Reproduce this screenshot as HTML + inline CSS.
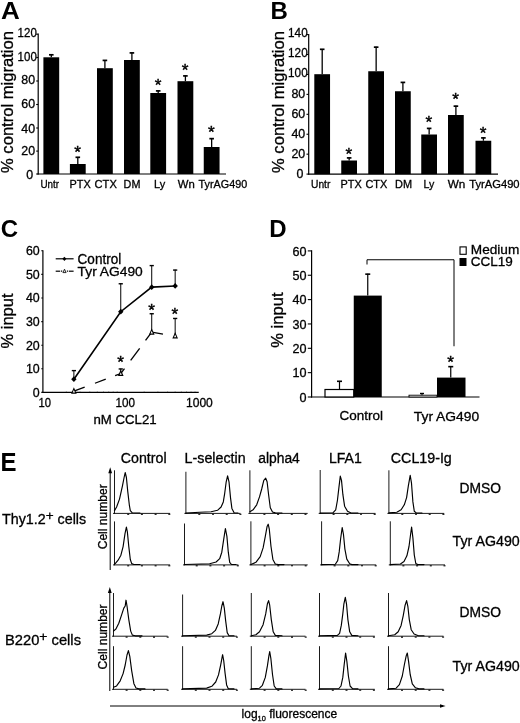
<!DOCTYPE html>
<html><head><meta charset="utf-8"><title>Figure</title>
<style>html,body{margin:0;padding:0;background:#fff;overflow:hidden}svg{display:block}text{font-family:"Liberation Sans",sans-serif}</style>
</head><body>
<svg width="520" height="723" viewBox="0 0 520 723" fill="#000">
<text x="1.0" y="19.2" font-size="24.5" font-weight="bold" textLength="18.8" lengthAdjust="spacingAndGlyphs">A</text>
<line x1="38.2" y1="33.5" x2="38.2" y2="174.6" stroke="#000" stroke-width="1.2" />
<line x1="37.6" y1="174" x2="226" y2="174" stroke="#000" stroke-width="1.2" />
<line x1="36.2" y1="174" x2="38.2" y2="174" stroke="#000" stroke-width="1.1" />
<text x="33.2" y="178.64" font-size="12.4" text-anchor="end" stroke="#000" stroke-width="0.3">0</text>
<line x1="36.2" y1="151.1" x2="38.2" y2="151.1" stroke="#000" stroke-width="1.1" />
<text x="35.1" y="155.19" font-size="12.4" text-anchor="end" stroke="#000" stroke-width="0.3">20</text>
<line x1="36.2" y1="128" x2="38.2" y2="128" stroke="#000" stroke-width="1.1" />
<text x="35.1" y="132.54" font-size="12.4" text-anchor="end" stroke="#000" stroke-width="0.3">40</text>
<line x1="36.2" y1="104.5" x2="38.2" y2="104.5" stroke="#000" stroke-width="1.1" />
<text x="35.1" y="108.24" font-size="12.4" text-anchor="end" stroke="#000" stroke-width="0.3">60</text>
<line x1="36.2" y1="81" x2="38.2" y2="81" stroke="#000" stroke-width="1.1" />
<text x="35.1" y="84.44" font-size="12.4" text-anchor="end" stroke="#000" stroke-width="0.3">80</text>
<line x1="36.2" y1="57.5" x2="38.2" y2="57.5" stroke="#000" stroke-width="1.1" />
<text x="36.800000000000004" y="60.69" font-size="12.4" text-anchor="end" textLength="19.2" lengthAdjust="spacingAndGlyphs" stroke="#000" stroke-width="0.3">100</text>
<line x1="36.2" y1="34.2" x2="38.2" y2="34.2" stroke="#000" stroke-width="1.1" />
<text x="36.800000000000004" y="36.94" font-size="12.4" text-anchor="end" textLength="19.2" lengthAdjust="spacingAndGlyphs" stroke="#000" stroke-width="0.3">120</text>
<text transform="translate(13.1,102) rotate(-90)" font-size="15.8" text-anchor="middle" textLength="142" lengthAdjust="spacingAndGlyphs" stroke="#000" stroke-width="0.3">% control migration</text>
<rect x="43.4" y="57.3" width="15.8" height="116.7" fill="#000" stroke="none" stroke-width="1"/>
<line x1="51.3" y1="57.3" x2="51.3" y2="54.4" stroke="#000" stroke-width="1.3" />
<line x1="49.0" y1="54.8" x2="53.599999999999994" y2="54.8" stroke="#000" stroke-width="1.7000000000000002" />
<rect x="69.9" y="164" width="15.8" height="10" fill="#000" stroke="none" stroke-width="1"/>
<line x1="77.80000000000001" y1="164" x2="77.80000000000001" y2="156.9" stroke="#000" stroke-width="1.3" />
<line x1="75.50000000000001" y1="157.3" x2="80.10000000000001" y2="157.3" stroke="#000" stroke-width="1.7000000000000002" />
<text x="77.60000000000001" y="157.75" font-size="16.5" text-anchor="middle" textLength="6.7" lengthAdjust="spacingAndGlyphs" stroke="#000" stroke-width="0.4">*</text>
<rect x="97" y="68.2" width="15.8" height="105.8" fill="#000" stroke="none" stroke-width="1"/>
<line x1="104.9" y1="68.2" x2="104.9" y2="60" stroke="#000" stroke-width="1.3" />
<line x1="102.60000000000001" y1="60.4" x2="107.2" y2="60.4" stroke="#000" stroke-width="1.7000000000000002" />
<rect x="124" y="60" width="15.8" height="114" fill="#000" stroke="none" stroke-width="1"/>
<line x1="131.9" y1="60" x2="131.9" y2="52.5" stroke="#000" stroke-width="1.3" />
<line x1="129.6" y1="52.9" x2="134.20000000000002" y2="52.9" stroke="#000" stroke-width="1.7000000000000002" />
<rect x="150.3" y="93" width="15.8" height="81" fill="#000" stroke="none" stroke-width="1"/>
<line x1="158.20000000000002" y1="93" x2="158.20000000000002" y2="90.5" stroke="#000" stroke-width="1.3" />
<line x1="155.9" y1="90.9" x2="160.50000000000003" y2="90.9" stroke="#000" stroke-width="1.7000000000000002" />
<text x="158.00000000000003" y="90.5" font-size="16.5" text-anchor="middle" textLength="6.7" lengthAdjust="spacingAndGlyphs" stroke="#000" stroke-width="0.4">*</text>
<rect x="177.5" y="81.2" width="15.8" height="92.8" fill="#000" stroke="none" stroke-width="1"/>
<line x1="185.4" y1="81.2" x2="185.4" y2="75.5" stroke="#000" stroke-width="1.3" />
<line x1="183.1" y1="75.9" x2="187.70000000000002" y2="75.9" stroke="#000" stroke-width="1.7000000000000002" />
<text x="185.20000000000002" y="75.75" font-size="16.5" text-anchor="middle" textLength="6.7" lengthAdjust="spacingAndGlyphs" stroke="#000" stroke-width="0.4">*</text>
<rect x="203.75" y="147" width="15.8" height="27" fill="#000" stroke="none" stroke-width="1"/>
<line x1="211.65" y1="147" x2="211.65" y2="138.25" stroke="#000" stroke-width="1.3" />
<line x1="209.35" y1="138.65" x2="213.95000000000002" y2="138.65" stroke="#000" stroke-width="1.7000000000000002" />
<text x="211.45000000000002" y="138.25" font-size="16.5" text-anchor="middle" textLength="6.7" lengthAdjust="spacingAndGlyphs" stroke="#000" stroke-width="0.4">*</text>
<text x="40.4" y="188" font-size="11" textLength="18.6" lengthAdjust="spacingAndGlyphs" stroke="#000" stroke-width="0.3">Untr</text>
<text x="69.6" y="188" font-size="11" textLength="21.2" lengthAdjust="spacingAndGlyphs" stroke="#000" stroke-width="0.3">PTX</text>
<text x="94.6" y="188" font-size="11" textLength="22.2" lengthAdjust="spacingAndGlyphs" stroke="#000" stroke-width="0.3">CTX</text>
<text x="123.6" y="188" font-size="11" textLength="16.8" lengthAdjust="spacingAndGlyphs" stroke="#000" stroke-width="0.3">DM</text>
<text x="154" y="188" font-size="11" textLength="11.2" lengthAdjust="spacingAndGlyphs" stroke="#000" stroke-width="0.3">Ly</text>
<text x="177.8" y="188" font-size="11" textLength="17" lengthAdjust="spacingAndGlyphs" stroke="#000" stroke-width="0.3">Wn</text>
<text x="198.6" y="188" font-size="11" textLength="48.6" lengthAdjust="spacingAndGlyphs" stroke="#000" stroke-width="0.3">TyrAG490</text>
<text x="270.6" y="18.5" font-size="24" font-weight="bold">B</text>
<line x1="308.7" y1="34.1" x2="308.7" y2="174.7" stroke="#000" stroke-width="1.2" />
<line x1="308.09999999999997" y1="174.1" x2="498" y2="174.1" stroke="#000" stroke-width="1.2" />
<line x1="306.5" y1="174.1" x2="308.7" y2="174.1" stroke="#000" stroke-width="1.1" />
<text x="303.3" y="178.44" font-size="12.4" text-anchor="end" stroke="#000" stroke-width="0.3">0</text>
<line x1="306.5" y1="154.17" x2="308.7" y2="154.17" stroke="#000" stroke-width="1.1" />
<text x="305.20000000000005" y="158.34" font-size="12.4" text-anchor="end" stroke="#000" stroke-width="0.3">20</text>
<line x1="306.5" y1="134.24" x2="308.7" y2="134.24" stroke="#000" stroke-width="1.1" />
<text x="305.20000000000005" y="138.44" font-size="12.4" text-anchor="end" stroke="#000" stroke-width="0.3">40</text>
<line x1="306.5" y1="114.31" x2="308.7" y2="114.31" stroke="#000" stroke-width="1.1" />
<text x="305.20000000000005" y="118.24" font-size="12.4" text-anchor="end" stroke="#000" stroke-width="0.3">60</text>
<line x1="306.5" y1="94.38" x2="308.7" y2="94.38" stroke="#000" stroke-width="1.1" />
<text x="305.20000000000005" y="98.04" font-size="12.4" text-anchor="end" stroke="#000" stroke-width="0.3">80</text>
<line x1="306.5" y1="74.45" x2="308.7" y2="74.45" stroke="#000" stroke-width="1.1" />
<text x="307.70000000000005" y="77.34" font-size="12.4" text-anchor="end" textLength="19.6" lengthAdjust="spacingAndGlyphs" stroke="#000" stroke-width="0.3">100</text>
<line x1="306.5" y1="54.52" x2="308.7" y2="54.52" stroke="#000" stroke-width="1.1" />
<text x="307.70000000000005" y="57.14" font-size="12.4" text-anchor="end" textLength="19.6" lengthAdjust="spacingAndGlyphs" stroke="#000" stroke-width="0.3">120</text>
<line x1="306.5" y1="34.59" x2="308.7" y2="34.59" stroke="#000" stroke-width="1.1" />
<text x="307.70000000000005" y="37.14" font-size="12.4" text-anchor="end" textLength="19.6" lengthAdjust="spacingAndGlyphs" stroke="#000" stroke-width="0.3">140</text>
<text transform="translate(284.3,102) rotate(-90)" font-size="15.8" text-anchor="middle" textLength="142" lengthAdjust="spacingAndGlyphs" stroke="#000" stroke-width="0.3">% control migration</text>
<rect x="314.3" y="74.2" width="15.75" height="99.9" fill="#000" stroke="none" stroke-width="1"/>
<line x1="322.2" y1="74.2" x2="322.2" y2="48.9" stroke="#000" stroke-width="1.3" />
<line x1="319.9" y1="49.3" x2="324.5" y2="49.3" stroke="#000" stroke-width="1.7000000000000002" />
<rect x="341.25" y="160.5" width="15.75" height="13.6" fill="#000" stroke="none" stroke-width="1"/>
<line x1="349.15" y1="160.5" x2="349.15" y2="157.5" stroke="#000" stroke-width="1.3" />
<line x1="346.84999999999997" y1="157.9" x2="351.45" y2="157.9" stroke="#000" stroke-width="1.7000000000000002" />
<text x="348.95" y="159.5" font-size="16.5" text-anchor="middle" textLength="6.7" lengthAdjust="spacingAndGlyphs" stroke="#000" stroke-width="0.4">*</text>
<rect x="368.25" y="71.25" width="15.75" height="102.85" fill="#000" stroke="none" stroke-width="1"/>
<line x1="376.15" y1="71.25" x2="376.15" y2="46.75" stroke="#000" stroke-width="1.3" />
<line x1="373.84999999999997" y1="47.15" x2="378.45" y2="47.15" stroke="#000" stroke-width="1.7000000000000002" />
<rect x="395" y="91.25" width="15.75" height="82.85" fill="#000" stroke="none" stroke-width="1"/>
<line x1="402.9" y1="91.25" x2="402.9" y2="82" stroke="#000" stroke-width="1.3" />
<line x1="400.59999999999997" y1="82.4" x2="405.2" y2="82.4" stroke="#000" stroke-width="1.7000000000000002" />
<rect x="421.25" y="134.5" width="15.75" height="39.6" fill="#000" stroke="none" stroke-width="1"/>
<line x1="429.15" y1="134.5" x2="429.15" y2="128" stroke="#000" stroke-width="1.3" />
<line x1="426.84999999999997" y1="128.4" x2="431.45" y2="128.4" stroke="#000" stroke-width="1.7000000000000002" />
<text x="428.95" y="128.25" font-size="16.5" text-anchor="middle" textLength="6.7" lengthAdjust="spacingAndGlyphs" stroke="#000" stroke-width="0.4">*</text>
<rect x="448" y="115" width="15.75" height="59.1" fill="#000" stroke="none" stroke-width="1"/>
<line x1="455.9" y1="115" x2="455.9" y2="105.75" stroke="#000" stroke-width="1.3" />
<line x1="453.59999999999997" y1="106.15" x2="458.2" y2="106.15" stroke="#000" stroke-width="1.7000000000000002" />
<text x="455.7" y="105.0" font-size="16.5" text-anchor="middle" textLength="6.7" lengthAdjust="spacingAndGlyphs" stroke="#000" stroke-width="0.4">*</text>
<rect x="475.5" y="140.75" width="15.75" height="33.35" fill="#000" stroke="none" stroke-width="1"/>
<line x1="483.4" y1="140.75" x2="483.4" y2="137.5" stroke="#000" stroke-width="1.3" />
<line x1="481.09999999999997" y1="137.9" x2="485.7" y2="137.9" stroke="#000" stroke-width="1.7000000000000002" />
<text x="483.2" y="138.75" font-size="16.5" text-anchor="middle" textLength="6.7" lengthAdjust="spacingAndGlyphs" stroke="#000" stroke-width="0.4">*</text>
<text x="311" y="187.7" font-size="11" textLength="19.3" lengthAdjust="spacingAndGlyphs" stroke="#000" stroke-width="0.3">Untr</text>
<text x="340.5" y="187.7" font-size="11" textLength="21.2" lengthAdjust="spacingAndGlyphs" stroke="#000" stroke-width="0.3">PTX</text>
<text x="365.5" y="187.7" font-size="11" textLength="21.8" lengthAdjust="spacingAndGlyphs" stroke="#000" stroke-width="0.3">CTX</text>
<text x="395" y="187.7" font-size="11" textLength="17" lengthAdjust="spacingAndGlyphs" stroke="#000" stroke-width="0.3">DM</text>
<text x="423.4" y="187.7" font-size="11" textLength="10.8" lengthAdjust="spacingAndGlyphs" stroke="#000" stroke-width="0.3">Ly</text>
<text x="447.8" y="187.7" font-size="11" textLength="17.6" lengthAdjust="spacingAndGlyphs" stroke="#000" stroke-width="0.3">Wn</text>
<text x="469.2" y="187.7" font-size="11" textLength="50.4" lengthAdjust="spacingAndGlyphs" stroke="#000" stroke-width="0.3">TyrAG490</text>
<text x="0.8" y="237.4" font-size="24" font-weight="bold">C</text>
<line x1="42.9" y1="250.2" x2="42.9" y2="393.0" stroke="#000" stroke-width="1.2" />
<line x1="42.3" y1="392.4" x2="198.75" y2="392.4" stroke="#000" stroke-width="1.2" />
<line x1="41.3" y1="392.4" x2="42.9" y2="392.4" stroke="#000" stroke-width="1.1" />
<text x="39.7" y="396.7" font-size="12.4" text-anchor="end" stroke="#000" stroke-width="0.3">0</text>
<line x1="41.3" y1="368.8" x2="42.9" y2="368.8" stroke="#000" stroke-width="1.1" />
<text x="39.7" y="373.1" font-size="12.4" text-anchor="end" stroke="#000" stroke-width="0.3">10</text>
<line x1="41.3" y1="345.2" x2="42.9" y2="345.2" stroke="#000" stroke-width="1.1" />
<text x="39.7" y="349.5" font-size="12.4" text-anchor="end" stroke="#000" stroke-width="0.3">20</text>
<line x1="41.3" y1="321.6" x2="42.9" y2="321.6" stroke="#000" stroke-width="1.1" />
<text x="39.7" y="325.9" font-size="12.4" text-anchor="end" stroke="#000" stroke-width="0.3">30</text>
<line x1="41.3" y1="298.0" x2="42.9" y2="298.0" stroke="#000" stroke-width="1.1" />
<text x="39.7" y="302.3" font-size="12.4" text-anchor="end" stroke="#000" stroke-width="0.3">40</text>
<line x1="41.3" y1="274.4" x2="42.9" y2="274.4" stroke="#000" stroke-width="1.1" />
<text x="39.7" y="278.7" font-size="12.4" text-anchor="end" stroke="#000" stroke-width="0.3">50</text>
<line x1="41.3" y1="250.8" x2="42.9" y2="250.8" stroke="#000" stroke-width="1.1" />
<text x="39.7" y="255.1" font-size="12.4" text-anchor="end" stroke="#000" stroke-width="0.3">60</text>
<text transform="translate(13.4,321) rotate(-90)" font-size="16" text-anchor="middle" textLength="55" lengthAdjust="spacingAndGlyphs" stroke="#000" stroke-width="0.3">% input</text>
<line x1="66.34" y1="391.2" x2="66.34" y2="392.4" stroke="#000" stroke-width="0.5" stroke-opacity="0.6"/>
<line x1="80.04" y1="391.2" x2="80.04" y2="392.4" stroke="#000" stroke-width="0.5" stroke-opacity="0.6"/>
<line x1="89.77" y1="391.2" x2="89.77" y2="392.4" stroke="#000" stroke-width="0.5" stroke-opacity="0.6"/>
<line x1="97.31" y1="391.2" x2="97.31" y2="392.4" stroke="#000" stroke-width="0.5" stroke-opacity="0.6"/>
<line x1="103.48" y1="391.2" x2="103.48" y2="392.4" stroke="#000" stroke-width="0.5" stroke-opacity="0.6"/>
<line x1="108.69" y1="391.2" x2="108.69" y2="392.4" stroke="#000" stroke-width="0.5" stroke-opacity="0.6"/>
<line x1="113.21" y1="391.2" x2="113.21" y2="392.4" stroke="#000" stroke-width="0.5" stroke-opacity="0.6"/>
<line x1="117.19" y1="391.2" x2="117.19" y2="392.4" stroke="#000" stroke-width="0.5" stroke-opacity="0.6"/>
<line x1="144.19" y1="391.2" x2="144.19" y2="392.4" stroke="#000" stroke-width="0.5" stroke-opacity="0.6"/>
<line x1="157.89" y1="391.2" x2="157.89" y2="392.4" stroke="#000" stroke-width="0.5" stroke-opacity="0.6"/>
<line x1="167.62" y1="391.2" x2="167.62" y2="392.4" stroke="#000" stroke-width="0.5" stroke-opacity="0.6"/>
<line x1="175.16" y1="391.2" x2="175.16" y2="392.4" stroke="#000" stroke-width="0.5" stroke-opacity="0.6"/>
<line x1="181.33" y1="391.2" x2="181.33" y2="392.4" stroke="#000" stroke-width="0.5" stroke-opacity="0.6"/>
<line x1="186.54" y1="391.2" x2="186.54" y2="392.4" stroke="#000" stroke-width="0.5" stroke-opacity="0.6"/>
<line x1="191.06" y1="391.2" x2="191.06" y2="392.4" stroke="#000" stroke-width="0.5" stroke-opacity="0.6"/>
<line x1="195.04" y1="391.2" x2="195.04" y2="392.4" stroke="#000" stroke-width="0.5" stroke-opacity="0.6"/>
<text x="38.5" y="407.4" font-size="12.3" textLength="12.5" lengthAdjust="spacingAndGlyphs" stroke="#000" stroke-width="0.3">10</text>
<text x="115.6" y="407.4" font-size="12.3" textLength="19.5" lengthAdjust="spacingAndGlyphs" stroke="#000" stroke-width="0.3">100</text>
<text x="186" y="407.4" font-size="12.3" textLength="26.8" lengthAdjust="spacingAndGlyphs" stroke="#000" stroke-width="0.3">1000</text>
<text x="93.4" y="423.9" font-size="13" textLength="63.2" lengthAdjust="spacingAndGlyphs" stroke="#000" stroke-width="0.3">nM CCL21</text>
<polyline fill="none" stroke="#000" stroke-width="1.6" points="73.88,379.18 120.75,311.69 151.73,287.14 175.16,285.96"/>
<line x1="73.88" y1="379.18" x2="73.88" y2="370.21" stroke="#000" stroke-width="1" />
<line x1="71.78" y1="370.60999999999996" x2="75.97999999999999" y2="370.60999999999996" stroke="#000" stroke-width="1.4" />
<path d="M71.18,379.18 L73.88,376.28 L76.58,379.18 L73.88,382.08Z" fill="#000"/>
<line x1="120.75" y1="311.69" x2="120.75" y2="283.37" stroke="#000" stroke-width="1" />
<line x1="118.65" y1="283.77" x2="122.85" y2="283.77" stroke="#000" stroke-width="1.4" />
<path d="M118.05,311.69 L120.75,308.79 L123.45,311.69 L120.75,314.59Z" fill="#000"/>
<line x1="151.73" y1="287.14" x2="151.73" y2="265.19" stroke="#000" stroke-width="1" />
<line x1="149.63" y1="265.59" x2="153.82999999999998" y2="265.59" stroke="#000" stroke-width="1.4" />
<path d="M149.03,287.14 L151.73,284.24 L154.43,287.14 L151.73,290.04Z" fill="#000"/>
<line x1="175.16" y1="285.96" x2="175.16" y2="269.68" stroke="#000" stroke-width="1" />
<line x1="173.06" y1="270.08" x2="177.26" y2="270.08" stroke="#000" stroke-width="1.4" />
<path d="M172.46,285.96 L175.16,283.06 L177.86,285.96 L175.16,288.86Z" fill="#000"/>
<line x1="73.88" y1="391.22" x2="84.66" y2="387.15" stroke="#000" stroke-width="1.3" />
<line x1="94.97" y1="383.25" x2="105.75" y2="379.18" stroke="#000" stroke-width="1.3" />
<line x1="115.13" y1="375.64" x2="120.75" y2="373.52" stroke="#000" stroke-width="1.3" />
<line x1="120.75" y1="373.52" x2="124.47" y2="368.56" stroke="#000" stroke-width="1.3" />
<line x1="130.66" y1="360.3" x2="139.65" y2="348.33" stroke="#000" stroke-width="1.3" />
<line x1="145.53" y1="340.48" x2="151.73" y2="332.22" stroke="#000" stroke-width="1.3" />
<line x1="151.73" y1="332.22" x2="162.98" y2="334.03" stroke="#000" stroke-width="1.3" />
<path d="M71.88,393.12 L73.88,388.62 L75.88,393.12Z" fill="#fff" stroke="#000" stroke-width="1.1"/>
<line x1="120.75" y1="371.52" x2="120.75" y2="368.56" stroke="#000" stroke-width="1" />
<line x1="118.65" y1="368.96" x2="122.85" y2="368.96" stroke="#000" stroke-width="1.4" />
<path d="M118.75,375.42 L120.75,370.92 L122.75,375.42Z" fill="#fff" stroke="#000" stroke-width="1.1"/>
<text x="120.55" y="368.25" font-size="16.5" text-anchor="middle" textLength="6.7" lengthAdjust="spacingAndGlyphs" stroke="#000" stroke-width="0.4">*</text>
<line x1="151.73" y1="330.22" x2="151.73" y2="313.34" stroke="#000" stroke-width="1" />
<line x1="149.63" y1="313.73999999999995" x2="153.82999999999998" y2="313.73999999999995" stroke="#000" stroke-width="1.4" />
<path d="M149.73,334.12 L151.73,329.62 L153.73,334.12Z" fill="#fff" stroke="#000" stroke-width="1.1"/>
<text x="151.53" y="315.75" font-size="16.5" text-anchor="middle" textLength="6.7" lengthAdjust="spacingAndGlyphs" stroke="#000" stroke-width="0.4">*</text>
<line x1="175.16" y1="334.0" x2="175.16" y2="318.06" stroke="#000" stroke-width="1" />
<line x1="173.06" y1="318.46" x2="177.26" y2="318.46" stroke="#000" stroke-width="1.4" />
<path d="M173.16,337.90 L175.16,333.40 L177.16,337.90Z" fill="#fff" stroke="#000" stroke-width="1.1"/>
<text x="174.96" y="320.0" font-size="16.5" text-anchor="middle" textLength="6.7" lengthAdjust="spacingAndGlyphs" stroke="#000" stroke-width="0.4">*</text>
<line x1="55.7" y1="258.8" x2="73.6" y2="258.8" stroke="#000" stroke-width="1.2" />
<path d="M62.4,258.8 L64.4,256.7 L66.4,258.8 L64.4,260.9Z" fill="#000"/>
<text x="77.6" y="263.7" font-size="13.9" textLength="43.6" lengthAdjust="spacingAndGlyphs" stroke="#000" stroke-width="0.3">Control</text>
<line x1="55.7" y1="271.2" x2="60.2" y2="271.2" stroke="#000" stroke-width="1.2" />
<line x1="61" y1="271.2" x2="62.2" y2="271.2" stroke="#000" stroke-width="1.2" />
<line x1="66.9" y1="271.2" x2="68" y2="271.2" stroke="#000" stroke-width="1.2" />
<line x1="68.8" y1="271.2" x2="73.6" y2="271.2" stroke="#000" stroke-width="1.2" />
<path d="M62.9,272.6 L64.5,269.2 L66.1,272.6Z" fill="#ddd" stroke="#000" stroke-width="0.8"/>
<text x="77.6" y="275.6" font-size="13.6" textLength="65.2" lengthAdjust="spacingAndGlyphs" stroke="#000" stroke-width="0.3">Tyr AG490</text>
<text x="269.2" y="236.6" font-size="24" font-weight="bold">D</text>
<line x1="311.6" y1="250.2" x2="311.6" y2="397.6" stroke="#000" stroke-width="1.2" />
<line x1="311.0" y1="397" x2="479.5" y2="397" stroke="#000" stroke-width="1.2" />
<line x1="307.8" y1="397.0" x2="311.6" y2="397.0" stroke="#000" stroke-width="1.1" />
<text x="306.6" y="401.6" font-size="12.6" text-anchor="end" stroke="#000" stroke-width="0.3">0</text>
<line x1="307.8" y1="372.65" x2="311.6" y2="372.65" stroke="#000" stroke-width="1.1" />
<text x="306.6" y="377.25" font-size="12.6" text-anchor="end" stroke="#000" stroke-width="0.3">10</text>
<line x1="307.8" y1="348.3" x2="311.6" y2="348.3" stroke="#000" stroke-width="1.1" />
<text x="306.6" y="352.9" font-size="12.6" text-anchor="end" stroke="#000" stroke-width="0.3">20</text>
<line x1="307.8" y1="323.95" x2="311.6" y2="323.95" stroke="#000" stroke-width="1.1" />
<text x="306.6" y="328.55" font-size="12.6" text-anchor="end" stroke="#000" stroke-width="0.3">30</text>
<line x1="307.8" y1="299.6" x2="311.6" y2="299.6" stroke="#000" stroke-width="1.1" />
<text x="306.6" y="304.2" font-size="12.6" text-anchor="end" stroke="#000" stroke-width="0.3">40</text>
<line x1="307.8" y1="275.25" x2="311.6" y2="275.25" stroke="#000" stroke-width="1.1" />
<text x="306.6" y="279.85" font-size="12.6" text-anchor="end" stroke="#000" stroke-width="0.3">50</text>
<line x1="307.8" y1="250.9" x2="311.6" y2="250.9" stroke="#000" stroke-width="1.1" />
<text x="306.6" y="255.5" font-size="12.6" text-anchor="end" stroke="#000" stroke-width="0.3">60</text>
<text transform="translate(282.9,320.1) rotate(-90)" font-size="16" text-anchor="middle" textLength="55.2" lengthAdjust="spacingAndGlyphs" stroke="#000" stroke-width="0.3">% input</text>
<rect x="325" y="389.5" width="28.75" height="7.5" fill="#fff" stroke="#000" stroke-width="1.2"/>
<line x1="339.5" y1="389.5" x2="339.5" y2="380.9" stroke="#000" stroke-width="1.2" />
<line x1="337.0" y1="381.29999999999995" x2="342.0" y2="381.29999999999995" stroke="#000" stroke-width="1.6" />
<rect x="353.75" y="295.6" width="28" height="101.4" fill="#000" stroke="none" stroke-width="1"/>
<line x1="367.75" y1="295.5" x2="367.75" y2="273.75" stroke="#000" stroke-width="1.2" />
<line x1="365.25" y1="274.15" x2="370.25" y2="274.15" stroke="#000" stroke-width="1.6" />
<rect x="409" y="395.2" width="28" height="1.8" fill="#fff" stroke="#000" stroke-width="0.9"/>
<line x1="422" y1="395.2" x2="422" y2="393.1" stroke="#000" stroke-width="1" />
<line x1="420.0" y1="393.5" x2="424.0" y2="393.5" stroke="#000" stroke-width="1.4" />
<rect x="437" y="377.6" width="28.5" height="19.4" fill="#000" stroke="none" stroke-width="1"/>
<line x1="450.75" y1="377.5" x2="450.75" y2="366.25" stroke="#000" stroke-width="1.2" />
<line x1="448.25" y1="366.65" x2="453.25" y2="366.65" stroke="#000" stroke-width="1.6" />
<text x="450.55" y="368.25" font-size="16.5" text-anchor="middle" textLength="6.7" lengthAdjust="spacingAndGlyphs" stroke="#000" stroke-width="0.4">*</text>
<path d="M367,264.5 L367,259.75 L454,259.75 L454,346.25" fill="none" stroke="#000" stroke-width="1"/>
<text x="339.6" y="419.6" font-size="13" textLength="43.4" lengthAdjust="spacingAndGlyphs" stroke="#000" stroke-width="0.3">Control</text>
<text x="413.8" y="420.5" font-size="13" textLength="65.4" lengthAdjust="spacingAndGlyphs" stroke="#000" stroke-width="0.3">Tyr AG490</text>
<rect x="460" y="246.9" width="6.2" height="7.4" fill="#fff" stroke="#000" stroke-width="1.1"/>
<rect x="459.5" y="258" width="7" height="8" fill="#000" stroke="none" stroke-width="1"/>
<text x="470.8" y="253.75" font-size="13.5" textLength="48.5" lengthAdjust="spacingAndGlyphs" stroke="#000" stroke-width="0.3">Medium</text>
<text x="470.8" y="265.6" font-size="13.5" textLength="42" lengthAdjust="spacingAndGlyphs" stroke="#000" stroke-width="0.3">CCL19</text>
<text x="0.5" y="470.7" font-size="25.2" font-weight="bold" textLength="16" lengthAdjust="spacingAndGlyphs">E</text>
<text x="2" y="523.75" font-size="14" textLength="84.2" lengthAdjust="spacingAndGlyphs" stroke="#000" stroke-width="0.3">Thy1.2<tspan font-size="13.3" dy="-3.6">+</tspan><tspan dy="3.6"> cells</tspan></text>
<text x="5" y="644.5" font-size="14" textLength="76" lengthAdjust="spacingAndGlyphs" stroke="#000" stroke-width="0.3">B220<tspan font-size="13.3" dy="-3.6">+</tspan><tspan dy="3.6"> cells</tspan></text>
<text x="120.8" y="462.6" font-size="14" textLength="45.8" lengthAdjust="spacingAndGlyphs" stroke="#000" stroke-width="0.3">Control</text>
<text x="184.6" y="462.6" font-size="14" textLength="61" lengthAdjust="spacingAndGlyphs" stroke="#000" stroke-width="0.3">L-selectin</text>
<text x="258.2" y="462.6" font-size="14" textLength="41.6" lengthAdjust="spacingAndGlyphs" stroke="#000" stroke-width="0.3">alpha4</text>
<text x="329" y="462.6" font-size="14" textLength="32.8" lengthAdjust="spacingAndGlyphs" stroke="#000" stroke-width="0.3">LFA1</text>
<text x="390.8" y="462.6" font-size="14" textLength="61" lengthAdjust="spacingAndGlyphs" stroke="#000" stroke-width="0.3">CCL19-Ig</text>
<text x="459.6" y="492.5" font-size="14" textLength="41.5" lengthAdjust="spacingAndGlyphs" stroke="#000" stroke-width="0.3">DMSO</text>
<text x="452.6" y="546.4" font-size="14" textLength="67.2" lengthAdjust="spacingAndGlyphs" stroke="#000" stroke-width="0.3">Tyr AG490</text>
<text x="459.6" y="616.7" font-size="14" textLength="41.5" lengthAdjust="spacingAndGlyphs" stroke="#000" stroke-width="0.3">DMSO</text>
<text x="452.6" y="670.6" font-size="14" textLength="67.2" lengthAdjust="spacingAndGlyphs" stroke="#000" stroke-width="0.3">Tyr AG490</text>
<line x1="110.2" y1="470.3" x2="110.2" y2="570" stroke="#000" stroke-width="1" />
<path d="M110.2,467.3 L108.3,473.3 L112.10000000000001,473.3Z" fill="#000"/>
<line x1="109.8" y1="590" x2="109.8" y2="691" stroke="#000" stroke-width="1" />
<path d="M109.8,587 L107.89999999999999,593 L111.7,593Z" fill="#000"/>
<text transform="translate(107.4,516.8) rotate(-90)" font-size="12" text-anchor="middle" textLength="65" lengthAdjust="spacingAndGlyphs" stroke="#000" stroke-width="0.3">Cell number</text>
<text transform="translate(107.4,636.9) rotate(-90)" font-size="12" text-anchor="middle" textLength="65" lengthAdjust="spacingAndGlyphs" stroke="#000" stroke-width="0.3">Cell number</text>
<line x1="110" y1="706" x2="443" y2="706" stroke="#000" stroke-width="1" />
<path d="M445.6,706 L440,704.2 L440,707.8Z" fill="#000"/>
<text x="241.6" y="718" font-size="12.2" textLength="95.6" lengthAdjust="spacingAndGlyphs" stroke="#000" stroke-width="0.3">log<tspan font-size="7.5" dy="2.8">10</tspan><tspan dy="-2.8"> fluorescence</tspan></text>
<line x1="114.5" y1="470.3" x2="114.5" y2="513.8" stroke="#000" stroke-width="0.9" />
<line x1="113.0" y1="513.4" x2="170.1" y2="513.4" stroke="#000" stroke-width="0.9" />
<line x1="127.19999999999999" y1="514.3" x2="129.2" y2="514.3" stroke="#000" stroke-width="1.1" />
<line x1="140.9" y1="514.3" x2="142.9" y2="514.3" stroke="#000" stroke-width="1.1" />
<line x1="154.6" y1="514.3" x2="156.6" y2="514.3" stroke="#000" stroke-width="1.1" />
<line x1="168.3" y1="514.3" x2="170.3" y2="514.3" stroke="#000" stroke-width="1.1" />
<polyline fill="none" stroke="#000" stroke-width="1.15" stroke-linejoin="round" stroke-linecap="round" points="114.5,510.6 116.6,507.0 119.5,499.1 122.4,486.1 124.1,477.5 125.2,472.5 126.4,477.5 127.8,491.9 129.3,504.8 130.3,510.6 132.1,512.7 140.0,513.0"/>
<line x1="114.5" y1="521.4" x2="114.5" y2="565.3" stroke="#000" stroke-width="0.9" />
<line x1="113.0" y1="564.9" x2="170.1" y2="564.9" stroke="#000" stroke-width="0.9" />
<line x1="127.19999999999999" y1="565.8" x2="129.2" y2="565.8" stroke="#000" stroke-width="1.1" />
<line x1="140.9" y1="565.8" x2="142.9" y2="565.8" stroke="#000" stroke-width="1.1" />
<line x1="154.6" y1="565.8" x2="156.6" y2="565.8" stroke="#000" stroke-width="1.1" />
<line x1="168.3" y1="565.8" x2="170.3" y2="565.8" stroke="#000" stroke-width="1.1" />
<polyline fill="none" stroke="#000" stroke-width="1.15" stroke-linejoin="round" stroke-linecap="round" points="114.5,564.0 115.2,563.6 118.1,560.2 120.9,555.2 123.1,546.6 125.0,533.6 126.4,527.1 127.4,532.2 128.8,546.6 130.3,559.5 131.7,563.6 133.9,564.5 140.0,564.5"/>
<line x1="113.5" y1="593" x2="113.5" y2="636.6" stroke="#000" stroke-width="0.9" />
<line x1="112.0" y1="636.2" x2="167.7" y2="636.2" stroke="#000" stroke-width="0.9" />
<line x1="125.6" y1="637.1" x2="127.6" y2="637.1" stroke="#000" stroke-width="1.1" />
<line x1="139.3" y1="637.1" x2="141.3" y2="637.1" stroke="#000" stroke-width="1.1" />
<line x1="153.0" y1="637.1" x2="155.0" y2="637.1" stroke="#000" stroke-width="1.1" />
<line x1="166.7" y1="637.1" x2="168.7" y2="637.1" stroke="#000" stroke-width="1.1" />
<polyline fill="none" stroke="#000" stroke-width="1.15" stroke-linejoin="round" stroke-linecap="round" points="113.5,631.1 115.9,629.0 118.8,623.2 121.7,614.6 123.8,608.1 125.2,606.0 126.0,600.2 127.0,606.0 128.8,619.6 130.7,631.1 132.4,635.1 135.3,635.8 142.0,635.8"/>
<line x1="113.5" y1="646.2" x2="113.5" y2="689.6999999999999" stroke="#000" stroke-width="0.9" />
<line x1="112.0" y1="689.3" x2="167.7" y2="689.3" stroke="#000" stroke-width="0.9" />
<line x1="125.6" y1="690.1999999999999" x2="127.6" y2="690.1999999999999" stroke="#000" stroke-width="1.1" />
<line x1="139.3" y1="690.1999999999999" x2="141.3" y2="690.1999999999999" stroke="#000" stroke-width="1.1" />
<line x1="153.0" y1="690.1999999999999" x2="155.0" y2="690.1999999999999" stroke="#000" stroke-width="1.1" />
<line x1="166.7" y1="690.1999999999999" x2="168.7" y2="690.1999999999999" stroke="#000" stroke-width="1.1" />
<polyline fill="none" stroke="#000" stroke-width="1.15" stroke-linejoin="round" stroke-linecap="round" points="113.5,687.3 116.6,685.9 120.2,680.8 123.1,673.6 125.2,665.0 127.0,655.0 128.4,650.6 129.8,656.4 131.7,670.8 133.9,683.7 136.0,688.0 138.9,688.9 145.0,688.9"/>
<line x1="185.9" y1="471.75" x2="185.9" y2="513.8" stroke="#000" stroke-width="0.9" />
<line x1="184.4" y1="513.4" x2="240.5" y2="513.4" stroke="#000" stroke-width="0.9" />
<line x1="198.3" y1="514.3" x2="200.3" y2="514.3" stroke="#000" stroke-width="1.1" />
<line x1="212.0" y1="514.3" x2="214.0" y2="514.3" stroke="#000" stroke-width="1.1" />
<line x1="225.7" y1="514.3" x2="227.7" y2="514.3" stroke="#000" stroke-width="1.1" />
<line x1="239.4" y1="514.3" x2="241.4" y2="514.3" stroke="#000" stroke-width="1.1" />
<polyline fill="none" stroke="#000" stroke-width="1.15" stroke-linejoin="round" stroke-linecap="round" points="185.9,513.1 199.6,512.3 211.1,511.7 217.5,510.3 221.1,507.0 223.3,501.9 224.7,493.3 226.2,481.8 227.6,475.8 229.0,481.8 230.5,497.6 231.9,508.4 234.1,512.7 238.0,513.0"/>
<line x1="184.5" y1="523.5" x2="184.5" y2="565.3" stroke="#000" stroke-width="0.9" />
<line x1="183.0" y1="564.9" x2="238.4" y2="564.9" stroke="#000" stroke-width="0.9" />
<line x1="195.7" y1="565.8" x2="197.7" y2="565.8" stroke="#000" stroke-width="1.1" />
<line x1="209.4" y1="565.8" x2="211.4" y2="565.8" stroke="#000" stroke-width="1.1" />
<line x1="223.1" y1="565.8" x2="225.1" y2="565.8" stroke="#000" stroke-width="1.1" />
<line x1="236.8" y1="565.8" x2="238.8" y2="565.8" stroke="#000" stroke-width="1.1" />
<polyline fill="none" stroke="#000" stroke-width="1.15" stroke-linejoin="round" stroke-linecap="round" points="184.5,564.5 209.6,563.7 216.1,562.0 219.7,558.7 221.8,552.2 223.7,539.3 225.4,528.5 226.9,536.4 228.3,552.2 229.7,562.3 231.5,564.5 236.0,564.5"/>
<line x1="182.6" y1="594.5" x2="182.6" y2="636.6" stroke="#000" stroke-width="0.9" />
<line x1="181.1" y1="636.2" x2="236.9" y2="636.2" stroke="#000" stroke-width="0.9" />
<line x1="194.8" y1="637.1" x2="196.8" y2="637.1" stroke="#000" stroke-width="1.1" />
<line x1="208.5" y1="637.1" x2="210.5" y2="637.1" stroke="#000" stroke-width="1.1" />
<line x1="222.2" y1="637.1" x2="224.2" y2="637.1" stroke="#000" stroke-width="1.1" />
<line x1="235.9" y1="637.1" x2="237.9" y2="637.1" stroke="#000" stroke-width="1.1" />
<polyline fill="none" stroke="#000" stroke-width="1.15" stroke-linejoin="round" stroke-linecap="round" points="182.6,635.7 206.7,635.1 211.8,633.7 215.4,630.4 218.2,623.9 220.4,613.9 221.8,606.0 223.0,601.7 224.3,608.1 225.7,621.1 227.2,632.6 229.0,635.7 234.0,635.8"/>
<line x1="182.6" y1="646.2" x2="182.6" y2="689.6999999999999" stroke="#000" stroke-width="0.9" />
<line x1="181.1" y1="689.3" x2="236.9" y2="689.3" stroke="#000" stroke-width="0.9" />
<line x1="194.8" y1="690.1999999999999" x2="196.8" y2="690.1999999999999" stroke="#000" stroke-width="1.1" />
<line x1="208.5" y1="690.1999999999999" x2="210.5" y2="690.1999999999999" stroke="#000" stroke-width="1.1" />
<line x1="222.2" y1="690.1999999999999" x2="224.2" y2="690.1999999999999" stroke="#000" stroke-width="1.1" />
<line x1="235.9" y1="690.1999999999999" x2="237.9" y2="690.1999999999999" stroke="#000" stroke-width="1.1" />
<polyline fill="none" stroke="#000" stroke-width="1.15" stroke-linejoin="round" stroke-linecap="round" points="182.6,688.9 206.7,688.1 211.8,686.3 215.7,682.0 218.5,674.9 220.7,664.8 222.6,654.7 223.7,660.5 225.1,673.4 226.6,684.9 228.3,688.8 234.0,688.9"/>
<line x1="249.9" y1="470.3" x2="249.9" y2="513.8" stroke="#000" stroke-width="0.9" />
<line x1="248.4" y1="513.4" x2="307.7" y2="513.4" stroke="#000" stroke-width="0.9" />
<line x1="263.4" y1="514.3" x2="265.4" y2="514.3" stroke="#000" stroke-width="1.1" />
<line x1="277.1" y1="514.3" x2="279.1" y2="514.3" stroke="#000" stroke-width="1.1" />
<line x1="290.8" y1="514.3" x2="292.8" y2="514.3" stroke="#000" stroke-width="1.1" />
<line x1="304.5" y1="514.3" x2="306.5" y2="514.3" stroke="#000" stroke-width="1.1" />
<polyline fill="none" stroke="#000" stroke-width="1.15" stroke-linejoin="round" stroke-linecap="round" points="249.9,511.7 253.1,509.8 256.7,504.8 259.5,496.9 261.7,489.0 263.8,480.4 265.7,478.2 267.1,481.8 268.6,494.7 270.3,507.7 272.5,512.0 275.3,512.9 282.0,513.0"/>
<line x1="250.9" y1="521.3" x2="250.9" y2="565.3" stroke="#000" stroke-width="0.9" />
<line x1="249.4" y1="564.9" x2="307.7" y2="564.9" stroke="#000" stroke-width="0.9" />
<line x1="263.6" y1="565.8" x2="265.6" y2="565.8" stroke="#000" stroke-width="1.1" />
<line x1="277.3" y1="565.8" x2="279.3" y2="565.8" stroke="#000" stroke-width="1.1" />
<line x1="291.0" y1="565.8" x2="293.0" y2="565.8" stroke="#000" stroke-width="1.1" />
<line x1="304.7" y1="565.8" x2="306.7" y2="565.8" stroke="#000" stroke-width="1.1" />
<polyline fill="none" stroke="#000" stroke-width="1.15" stroke-linejoin="round" stroke-linecap="round" points="250.9,564.5 255.9,562.3 260.2,556.6 263.1,547.9 265.3,536.4 267.1,526.4 268.2,524.2 269.3,529.2 271.0,546.5 272.9,559.4 275.3,564.0 278.2,564.6 284.0,564.6"/>
<line x1="251.3" y1="593" x2="251.3" y2="636.6" stroke="#000" stroke-width="0.9" />
<line x1="249.8" y1="636.2" x2="305.5" y2="636.2" stroke="#000" stroke-width="0.9" />
<line x1="263.6" y1="637.1" x2="265.6" y2="637.1" stroke="#000" stroke-width="1.1" />
<line x1="277.3" y1="637.1" x2="279.3" y2="637.1" stroke="#000" stroke-width="1.1" />
<line x1="291.0" y1="637.1" x2="293.0" y2="637.1" stroke="#000" stroke-width="1.1" />
<line x1="304.7" y1="637.1" x2="306.7" y2="637.1" stroke="#000" stroke-width="1.1" />
<polyline fill="none" stroke="#000" stroke-width="1.15" stroke-linejoin="round" stroke-linecap="round" points="251.3,635.7 255.9,634.7 259.5,631.8 263.1,624.7 265.7,613.9 267.4,603.8 268.6,600.6 269.7,605.2 271.3,619.6 273.2,631.8 275.3,635.4 282.0,635.8"/>
<line x1="251.3" y1="646.2" x2="251.3" y2="689.6999999999999" stroke="#000" stroke-width="0.9" />
<line x1="249.8" y1="689.3" x2="305.5" y2="689.3" stroke="#000" stroke-width="0.9" />
<line x1="263.6" y1="690.1999999999999" x2="265.6" y2="690.1999999999999" stroke="#000" stroke-width="1.1" />
<line x1="277.3" y1="690.1999999999999" x2="279.3" y2="690.1999999999999" stroke="#000" stroke-width="1.1" />
<line x1="291.0" y1="690.1999999999999" x2="293.0" y2="690.1999999999999" stroke="#000" stroke-width="1.1" />
<line x1="304.7" y1="690.1999999999999" x2="306.7" y2="690.1999999999999" stroke="#000" stroke-width="1.1" />
<polyline fill="none" stroke="#000" stroke-width="1.15" stroke-linejoin="round" stroke-linecap="round" points="251.3,688.9 259.5,688.2 262.4,685.3 265.3,677.4 267.4,665.9 268.9,655.9 269.7,651.5 270.9,658.7 272.5,674.5 274.2,686.0 276.3,688.9 282.0,688.9"/>
<line x1="320.2" y1="470" x2="320.2" y2="513.8" stroke="#000" stroke-width="0.9" />
<line x1="318.7" y1="513.4" x2="375.5" y2="513.4" stroke="#000" stroke-width="0.9" />
<line x1="332.6" y1="514.3" x2="334.6" y2="514.3" stroke="#000" stroke-width="1.1" />
<line x1="346.3" y1="514.3" x2="348.3" y2="514.3" stroke="#000" stroke-width="1.1" />
<line x1="360.0" y1="514.3" x2="362.0" y2="514.3" stroke="#000" stroke-width="1.1" />
<line x1="373.7" y1="514.3" x2="375.7" y2="514.3" stroke="#000" stroke-width="1.1" />
<polyline fill="none" stroke="#000" stroke-width="1.15" stroke-linejoin="round" stroke-linecap="round" points="320.2,513.1 333.1,512.7 335.7,509.8 337.4,500.5 338.9,487.6 340.3,476.1 341.5,480.4 342.9,494.7 344.6,506.2 347.5,511.3 351.1,513.0 358.0,513.0"/>
<line x1="321.6" y1="521.3" x2="321.6" y2="565.3" stroke="#000" stroke-width="0.9" />
<line x1="320.1" y1="564.9" x2="376.2" y2="564.9" stroke="#000" stroke-width="0.9" />
<line x1="333.6" y1="565.8" x2="335.6" y2="565.8" stroke="#000" stroke-width="1.1" />
<line x1="347.3" y1="565.8" x2="349.3" y2="565.8" stroke="#000" stroke-width="1.1" />
<line x1="361.0" y1="565.8" x2="363.0" y2="565.8" stroke="#000" stroke-width="1.1" />
<line x1="374.7" y1="565.8" x2="376.7" y2="565.8" stroke="#000" stroke-width="1.1" />
<polyline fill="none" stroke="#000" stroke-width="1.15" stroke-linejoin="round" stroke-linecap="round" points="321.6,564.6 335.3,564.2 337.7,560.6 339.2,551.9 340.6,539.0 342.2,527.5 343.5,534.7 344.9,549.1 346.8,559.1 349.7,563.7 351.8,564.6 358.0,564.6"/>
<line x1="319.5" y1="593" x2="319.5" y2="636.6" stroke="#000" stroke-width="0.9" />
<line x1="318.0" y1="636.2" x2="374.8" y2="636.2" stroke="#000" stroke-width="0.9" />
<line x1="331.8" y1="637.1" x2="333.8" y2="637.1" stroke="#000" stroke-width="1.1" />
<line x1="345.5" y1="637.1" x2="347.5" y2="637.1" stroke="#000" stroke-width="1.1" />
<line x1="359.2" y1="637.1" x2="361.2" y2="637.1" stroke="#000" stroke-width="1.1" />
<line x1="372.9" y1="637.1" x2="374.9" y2="637.1" stroke="#000" stroke-width="1.1" />
<polyline fill="none" stroke="#000" stroke-width="1.15" stroke-linejoin="round" stroke-linecap="round" points="319.5,635.7 337.4,635.4 339.6,633.3 341.3,625.4 342.8,613.9 343.9,603.8 345.3,597.3 346.5,603.8 347.9,619.6 349.7,631.8 351.8,635.4 358.0,635.8"/>
<line x1="319.5" y1="646.2" x2="319.5" y2="689.6999999999999" stroke="#000" stroke-width="0.9" />
<line x1="318.0" y1="689.3" x2="374.8" y2="689.3" stroke="#000" stroke-width="0.9" />
<line x1="331.8" y1="690.1999999999999" x2="333.8" y2="690.1999999999999" stroke="#000" stroke-width="1.1" />
<line x1="345.5" y1="690.1999999999999" x2="347.5" y2="690.1999999999999" stroke="#000" stroke-width="1.1" />
<line x1="359.2" y1="690.1999999999999" x2="361.2" y2="690.1999999999999" stroke="#000" stroke-width="1.1" />
<line x1="372.9" y1="690.1999999999999" x2="374.9" y2="690.1999999999999" stroke="#000" stroke-width="1.1" />
<polyline fill="none" stroke="#000" stroke-width="1.15" stroke-linejoin="round" stroke-linecap="round" points="319.5,688.9 338.9,688.5 341.0,686.0 342.8,677.4 344.2,664.5 345.6,653.0 346.9,661.6 348.4,676.0 350.1,686.0 352.5,688.6 358.0,688.9"/>
<line x1="388.9" y1="470.3" x2="388.9" y2="513.8" stroke="#000" stroke-width="0.9" />
<line x1="387.4" y1="513.4" x2="444.2" y2="513.4" stroke="#000" stroke-width="0.9" />
<line x1="401.3" y1="514.3" x2="403.3" y2="514.3" stroke="#000" stroke-width="1.1" />
<line x1="415.0" y1="514.3" x2="417.0" y2="514.3" stroke="#000" stroke-width="1.1" />
<line x1="428.7" y1="514.3" x2="430.7" y2="514.3" stroke="#000" stroke-width="1.1" />
<line x1="442.4" y1="514.3" x2="444.4" y2="514.3" stroke="#000" stroke-width="1.1" />
<polyline fill="none" stroke="#000" stroke-width="1.15" stroke-linejoin="round" stroke-linecap="round" points="388.9,512.9 396.8,512.3 401.1,509.8 404.3,504.8 406.6,497.6 408.3,486.1 410.2,475.3 411.5,483.2 412.9,501.9 414.3,511.3 416.2,512.9 422.0,513.0"/>
<line x1="390.3" y1="521.3" x2="390.3" y2="565.3" stroke="#000" stroke-width="0.9" />
<line x1="388.8" y1="564.9" x2="445" y2="564.9" stroke="#000" stroke-width="0.9" />
<line x1="402.4" y1="565.8" x2="404.4" y2="565.8" stroke="#000" stroke-width="1.1" />
<line x1="416.1" y1="565.8" x2="418.1" y2="565.8" stroke="#000" stroke-width="1.1" />
<line x1="429.8" y1="565.8" x2="431.8" y2="565.8" stroke="#000" stroke-width="1.1" />
<line x1="443.5" y1="565.8" x2="445.5" y2="565.8" stroke="#000" stroke-width="1.1" />
<polyline fill="none" stroke="#000" stroke-width="1.15" stroke-linejoin="round" stroke-linecap="round" points="390.3,564.6 400.4,564.0 404.0,561.6 406.9,555.8 409.0,546.5 410.5,535.0 411.6,527.1 412.9,537.9 414.3,555.1 415.8,563.5 417.7,564.6 424.0,564.6"/>
<line x1="388.5" y1="593" x2="388.5" y2="636.6" stroke="#000" stroke-width="0.9" />
<line x1="387.0" y1="636.2" x2="443.5" y2="636.2" stroke="#000" stroke-width="0.9" />
<line x1="401.0" y1="637.1" x2="403.0" y2="637.1" stroke="#000" stroke-width="1.1" />
<line x1="414.7" y1="637.1" x2="416.7" y2="637.1" stroke="#000" stroke-width="1.1" />
<line x1="428.4" y1="637.1" x2="430.4" y2="637.1" stroke="#000" stroke-width="1.1" />
<line x1="442.1" y1="637.1" x2="444.1" y2="637.1" stroke="#000" stroke-width="1.1" />
<polyline fill="none" stroke="#000" stroke-width="1.15" stroke-linejoin="round" stroke-linecap="round" points="388.5,635.7 394.7,634.7 398.2,631.8 401.1,625.4 403.3,615.3 405.1,605.2 406.6,600.6 407.9,606.7 409.3,619.6 411.2,629.7 414.1,634.0 418.4,635.7 424.0,635.8"/>
<line x1="388.5" y1="646.2" x2="388.5" y2="689.6999999999999" stroke="#000" stroke-width="0.9" />
<line x1="387.0" y1="689.3" x2="443.5" y2="689.3" stroke="#000" stroke-width="0.9" />
<line x1="401.0" y1="690.1999999999999" x2="403.0" y2="690.1999999999999" stroke="#000" stroke-width="1.1" />
<line x1="414.7" y1="690.1999999999999" x2="416.7" y2="690.1999999999999" stroke="#000" stroke-width="1.1" />
<line x1="428.4" y1="690.1999999999999" x2="430.4" y2="690.1999999999999" stroke="#000" stroke-width="1.1" />
<line x1="442.1" y1="690.1999999999999" x2="444.1" y2="690.1999999999999" stroke="#000" stroke-width="1.1" />
<polyline fill="none" stroke="#000" stroke-width="1.15" stroke-linejoin="round" stroke-linecap="round" points="388.5,688.9 396.1,688.2 399.4,684.6 402.3,676.0 404.4,664.5 406.2,655.9 407.3,653.0 408.6,661.6 410.2,674.5 412.3,683.9 415.5,687.8 419.1,688.9 424.0,688.9"/>
</svg>
</body></html>
